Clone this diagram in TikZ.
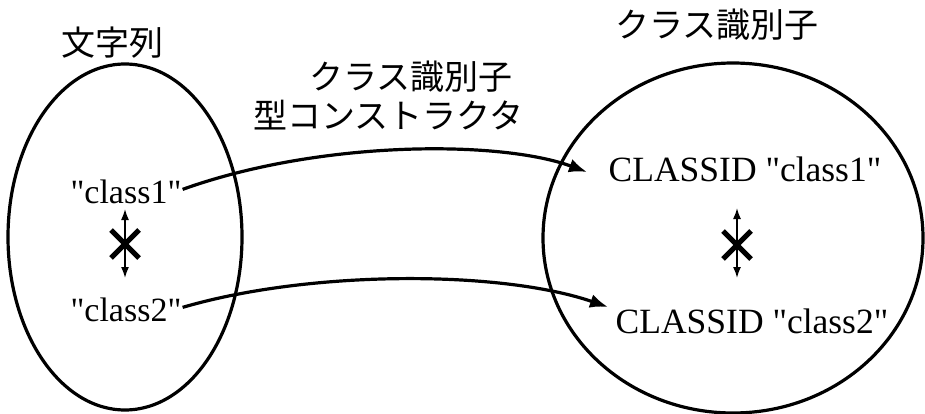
\documentclass[tikz,border=0pt]{standalone}
\usepackage{fontspec}
\setmainfont{Liberation Serif}[Ligatures=TeXOff]
\newfontfamily\cjk{Noto Sans CJK JP}
\usetikzlibrary{arrows.meta}
\begin{document}
\begin{tikzpicture}[x=1pt,y=-1pt,
  setring/.style={draw,line width=3.2pt},
  jlabel/.style={font=\cjk\fontsize{34}{40}\selectfont,inner sep=0pt},
  strlabel/.style={font=\fontsize{34}{40}\selectfont,inner sep=0pt,anchor=base},
  idlabel/.style={font=\fontsize{35.5}{40}\selectfont,inner sep=0pt,anchor=base},
  mapto/.style={line width=3.2pt,-{Latex[length=18pt,width=14pt]}},
  neq/.style={line width=1.6pt,{Latex[length=11pt,width=8pt]}-{Latex[length=11pt,width=8pt]}},
  cross/.style={line width=5pt}
]
\useasboundingbox (0,0) rectangle (925,414);
% sets
\draw[setring] (125,237) ellipse [x radius=117, y radius=173];
\draw[setring] (733,238) ellipse [x radius=190, y radius=175];
% labels
\node[jlabel] (lstr) at (112.5,43) {文字列};
\node[jlabel] (lcid) at (717,25) {クラス識別子};
\node[jlabel] (lcon1) at (411,77) {クラス識別子};
\node[jlabel] (lcon2) at (388,115) {型コンストラクタ};
% elements
\node[strlabel] (s1) at (126,203) {"class1"};
\node[strlabel] (s2) at (126,321) {"class2"};
\node[idlabel] (c1) at (745,182) {CLASSID "class1"};
\node[idlabel] (c2) at (752,333) {CLASSID "class2"};
% not-equal markers
\coordinate (la) at (125,209);
\coordinate (lb) at (125,278);
\draw[neq] (la) -- (lb);
\draw[cross] (111,230) -- (139,258) (139,230) -- (111,258);
\coordinate (ra) at (737,208);
\coordinate (rb) at (737,278);
\draw[neq] (ra) -- (rb);
\draw[cross] (723,231) -- (751,259) (751,231) -- (723,259);
% mappings
\coordinate (t1) at (587,172);
\coordinate (t2) at (608,307);
\draw[mapto] ([xshift=1pt,yshift=2pt]s1.east) .. controls (320,140) and (500,140) .. (t1);
\draw[mapto] ([xshift=1pt,yshift=2pt]s2.east) .. controls (310,270) and (500,270) .. (t2);
\end{tikzpicture}
\end{document}
